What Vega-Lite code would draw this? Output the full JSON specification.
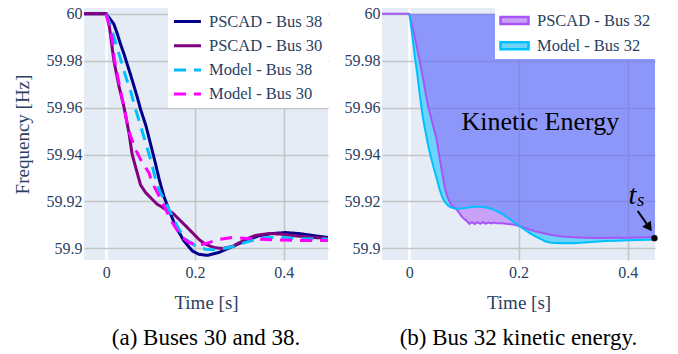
{
  "$schema": "https://vega.github.io/schema/vega-lite/v6.json",
  "padding": {"left": 13, "top": 5, "right": 5, "bottom": 2},
  "background": "white",
  "spacing": 10,
  "resolve": {
    "scale": {"stroke": "independent", "fill": "independent", "strokeDash": "independent", "strokeWidth": "independent", "x": "independent", "y": "independent"},
    "legend": {"stroke": "independent", "fill": "independent", "strokeDash": "independent", "strokeWidth": "independent"}
  },
  "config": {
    "font": "Liberation Serif",
    "view": {"stroke": null, "fill": "#E5ECF6"},
    "axis": {"domain": false, "ticks": false, "labelFont": "Liberation Serif", "labelFontSize": 16, "labelColor": "#2a3f5f", "titleFont": "Liberation Serif", "titleFontSize": 19, "titleFontWeight": "normal", "titleColor": "#2a3f5f", "gridColor": "#c4c4c4", "gridWidth": 1.5},
    "legend": {"labelFont": "Liberation Serif", "labelFontSize": 16.5, "labelColor": "#2a3f5f", "orient": "top-right", "offset": 0, "fillColor": "white", "title": null},
    "text": {"font": "Liberation Serif"},
    "title": {"font": "Liberation Serif", "fontSize": 23, "fontWeight": "normal", "color": "black", "orient": "bottom", "anchor": "middle", "offset": 15}
  },
  "hconcat": [
    {
      "width": 244,
      "height": 252,
      "title": {"text": "(a) Buses 30 and 38.", "orient": "bottom"},
      "data": {"values": [
        {"series": "PSCAD - Bus 38", "t": -0.05, "f": 60},
        {"series": "PSCAD - Bus 38", "t": 0, "f": 60},
        {"series": "PSCAD - Bus 38", "t": 0.01, "f": 59.9975},
        {"series": "PSCAD - Bus 38", "t": 0.0174, "f": 59.9956},
        {"series": "PSCAD - Bus 38", "t": 0.025, "f": 59.9915},
        {"series": "PSCAD - Bus 38", "t": 0.0325, "f": 59.987},
        {"series": "PSCAD - Bus 38", "t": 0.04, "f": 59.983},
        {"series": "PSCAD - Bus 38", "t": 0.0474, "f": 59.9785},
        {"series": "PSCAD - Bus 38", "t": 0.055, "f": 59.974},
        {"series": "PSCAD - Bus 38", "t": 0.0625, "f": 59.9693},
        {"series": "PSCAD - Bus 38", "t": 0.07, "f": 59.9645},
        {"series": "PSCAD - Bus 38", "t": 0.0775, "f": 59.9593},
        {"series": "PSCAD - Bus 38", "t": 0.09, "f": 59.952},
        {"series": "PSCAD - Bus 38", "t": 0.1, "f": 59.9445},
        {"series": "PSCAD - Bus 38", "t": 0.11, "f": 59.937},
        {"series": "PSCAD - Bus 38", "t": 0.12, "f": 59.929},
        {"series": "PSCAD - Bus 38", "t": 0.13, "f": 59.9222},
        {"series": "PSCAD - Bus 38", "t": 0.141, "f": 59.9166},
        {"series": "PSCAD - Bus 38", "t": 0.156, "f": 59.9096},
        {"series": "PSCAD - Bus 38", "t": 0.175, "f": 59.9032},
        {"series": "PSCAD - Bus 38", "t": 0.194, "f": 59.8989},
        {"series": "PSCAD - Bus 38", "t": 0.209, "f": 59.8974},
        {"series": "PSCAD - Bus 38", "t": 0.228, "f": 59.897},
        {"series": "PSCAD - Bus 38", "t": 0.254, "f": 59.8982},
        {"series": "PSCAD - Bus 38", "t": 0.284, "f": 59.9007},
        {"series": "PSCAD - Bus 38", "t": 0.314, "f": 59.9032},
        {"series": "PSCAD - Bus 38", "t": 0.344, "f": 59.9053},
        {"series": "PSCAD - Bus 38", "t": 0.374, "f": 59.9063},
        {"series": "PSCAD - Bus 38", "t": 0.404, "f": 59.9067},
        {"series": "PSCAD - Bus 38", "t": 0.434, "f": 59.9063},
        {"series": "PSCAD - Bus 38", "t": 0.464, "f": 59.9055},
        {"series": "PSCAD - Bus 38", "t": 0.5, "f": 59.9046},
        {"series": "PSCAD - Bus 30", "t": -0.05, "f": 60},
        {"series": "PSCAD - Bus 30", "t": 0, "f": 60},
        {"series": "PSCAD - Bus 30", "t": 0.006, "f": 59.9963},
        {"series": "PSCAD - Bus 30", "t": 0.0174, "f": 59.98},
        {"series": "PSCAD - Bus 30", "t": 0.0286, "f": 59.9693},
        {"series": "PSCAD - Bus 30", "t": 0.04, "f": 59.9603},
        {"series": "PSCAD - Bus 30", "t": 0.0512, "f": 59.9494},
        {"series": "PSCAD - Bus 30", "t": 0.0586, "f": 59.94},
        {"series": "PSCAD - Bus 30", "t": 0.068, "f": 59.9335},
        {"series": "PSCAD - Bus 30", "t": 0.0775, "f": 59.927},
        {"series": "PSCAD - Bus 30", "t": 0.0888, "f": 59.9238},
        {"series": "PSCAD - Bus 30", "t": 0.1037, "f": 59.9209},
        {"series": "PSCAD - Bus 30", "t": 0.115, "f": 59.9188},
        {"series": "PSCAD - Bus 30", "t": 0.134, "f": 59.9166},
        {"series": "PSCAD - Bus 30", "t": 0.149, "f": 59.9152},
        {"series": "PSCAD - Bus 30", "t": 0.164, "f": 59.9124},
        {"series": "PSCAD - Bus 30", "t": 0.179, "f": 59.9096},
        {"series": "PSCAD - Bus 30", "t": 0.194, "f": 59.9067},
        {"series": "PSCAD - Bus 30", "t": 0.209, "f": 59.9038},
        {"series": "PSCAD - Bus 30", "t": 0.224, "f": 59.9017},
        {"series": "PSCAD - Bus 30", "t": 0.243, "f": 59.9003},
        {"series": "PSCAD - Bus 30", "t": 0.262, "f": 59.8999},
        {"series": "PSCAD - Bus 30", "t": 0.284, "f": 59.9007},
        {"series": "PSCAD - Bus 30", "t": 0.314, "f": 59.9038},
        {"series": "PSCAD - Bus 30", "t": 0.337, "f": 59.9055},
        {"series": "PSCAD - Bus 30", "t": 0.367, "f": 59.9063},
        {"series": "PSCAD - Bus 30", "t": 0.397, "f": 59.906},
        {"series": "PSCAD - Bus 30", "t": 0.427, "f": 59.9053},
        {"series": "PSCAD - Bus 30", "t": 0.464, "f": 59.9046},
        {"series": "PSCAD - Bus 30", "t": 0.5, "f": 59.9043},
        {"series": "Model - Bus 38", "t": 0, "f": 60},
        {"series": "Model - Bus 38", "t": 0.0099, "f": 59.9949},
        {"series": "Model - Bus 38", "t": 0.0212, "f": 59.9878},
        {"series": "Model - Bus 38", "t": 0.0325, "f": 59.9806},
        {"series": "Model - Bus 38", "t": 0.0437, "f": 59.9735},
        {"series": "Model - Bus 38", "t": 0.055, "f": 59.9671},
        {"series": "Model - Bus 38", "t": 0.0663, "f": 59.9593},
        {"series": "Model - Bus 38", "t": 0.0775, "f": 59.9522},
        {"series": "Model - Bus 38", "t": 0.0888, "f": 59.9451},
        {"series": "Model - Bus 38", "t": 0.1, "f": 59.938},
        {"series": "Model - Bus 38", "t": 0.115, "f": 59.9266},
        {"series": "Model - Bus 38", "t": 0.126, "f": 59.9224},
        {"series": "Model - Bus 38", "t": 0.1375, "f": 59.9181},
        {"series": "Model - Bus 38", "t": 0.149, "f": 59.9138},
        {"series": "Model - Bus 38", "t": 0.164, "f": 59.9081},
        {"series": "Model - Bus 38", "t": 0.179, "f": 59.9038},
        {"series": "Model - Bus 38", "t": 0.2016, "f": 59.901},
        {"series": "Model - Bus 38", "t": 0.224, "f": 59.8996},
        {"series": "Model - Bus 38", "t": 0.2467, "f": 59.8993},
        {"series": "Model - Bus 38", "t": 0.2767, "f": 59.9003},
        {"series": "Model - Bus 38", "t": 0.3067, "f": 59.9021},
        {"series": "Model - Bus 38", "t": 0.337, "f": 59.9038},
        {"series": "Model - Bus 38", "t": 0.367, "f": 59.9046},
        {"series": "Model - Bus 38", "t": 0.397, "f": 59.9046},
        {"series": "Model - Bus 38", "t": 0.4345, "f": 59.9041},
        {"series": "Model - Bus 38", "t": 0.5, "f": 59.9038},
        {"series": "Model - Bus 30", "t": 0, "f": 60},
        {"series": "Model - Bus 30", "t": 0.0135, "f": 59.9892},
        {"series": "Model - Bus 30", "t": 0.019, "f": 59.9802},
        {"series": "Model - Bus 30", "t": 0.0286, "f": 59.9707},
        {"series": "Model - Bus 30", "t": 0.04, "f": 59.9603},
        {"series": "Model - Bus 30", "t": 0.051, "f": 59.95},
        {"series": "Model - Bus 30", "t": 0.066, "f": 59.9422},
        {"series": "Model - Bus 30", "t": 0.081, "f": 59.9366},
        {"series": "Model - Bus 30", "t": 0.0963, "f": 59.9323},
        {"series": "Model - Bus 30", "t": 0.1037, "f": 59.928},
        {"series": "Model - Bus 30", "t": 0.119, "f": 59.9224},
        {"series": "Model - Bus 30", "t": 0.134, "f": 59.9166},
        {"series": "Model - Bus 30", "t": 0.149, "f": 59.911},
        {"series": "Model - Bus 30", "t": 0.168, "f": 59.9053},
        {"series": "Model - Bus 30", "t": 0.1865, "f": 59.9024},
        {"series": "Model - Bus 30", "t": 0.209, "f": 59.9013},
        {"series": "Model - Bus 30", "t": 0.2316, "f": 59.9024},
        {"series": "Model - Bus 30", "t": 0.254, "f": 59.9038},
        {"series": "Model - Bus 30", "t": 0.284, "f": 59.9046},
        {"series": "Model - Bus 30", "t": 0.329, "f": 59.9041},
        {"series": "Model - Bus 30", "t": 0.374, "f": 59.9036},
        {"series": "Model - Bus 30", "t": 0.4345, "f": 59.9033},
        {"series": "Model - Bus 30", "t": 0.5, "f": 59.9033}
      ]},
      "mark": {"type": "line"},
      "encoding": {
        "x": {"field": "t", "type": "quantitative", "scale": {"domain": [-0.05, 0.5], "nice": false, "zero": false},
          "axis": {"values": [0, 0.2, 0.4], "format": "~g", "title": "Time [s]", "labelPadding": 4, "titlePadding": 13,
            "gridColor": {"condition": {"test": "datum.value === 0", "value": "#ffffff"}, "value": "#c4c4c4"},
            "gridWidth": {"condition": {"test": "datum.value === 0", "value": 2.5}, "value": 1.5}}},
        "y": {"field": "f", "type": "quantitative", "scale": {"domain": [59.895, 60.0025], "nice": false, "zero": false},
          "axis": {"values": [59.9, 59.92, 59.94, 59.96, 59.98, 60], "format": "~g", "title": "Frequency [Hz]", "labelPadding": 2, "titlePadding": 14}},
        "stroke": {"field": "series", "type": "nominal",
          "scale": {"domain": ["PSCAD - Bus 38", "PSCAD - Bus 30", "Model - Bus 38", "Model - Bus 30"], "range": ["#00008B", "#800080", "#00BFFF", "#FF00FF"]},
          "legend": {"symbolType": "M-2,0H2", "symbolSize": 182, "symbolStrokeWidth": 3.5, "symbolOffset": 6, "labelOffset": 13, "padding": 5, "rowPadding": 7.2}},
        "strokeDash": {"field": "series", "type": "nominal",
          "scale": {"domain": ["PSCAD - Bus 38", "PSCAD - Bus 30", "Model - Bus 38", "Model - Bus 30"], "range": [[1, 0], [1, 0], [12, 8], [12, 8]]},
          "legend": {"symbolType": "M-2,0H2", "symbolSize": 182, "symbolStrokeWidth": 3.5, "symbolOffset": 6, "labelOffset": 13, "padding": 5, "rowPadding": 7.2}},
        "strokeWidth": {"field": "series", "type": "ordinal",
          "scale": {"domain": ["PSCAD - Bus 38", "PSCAD - Bus 30", "Model - Bus 38", "Model - Bus 30"], "range": [3, 3, 4, 4]}, "legend": null}
      }
    },
    {
      "width": 273,
      "height": 252,
      "title": {"text": "(b) Bus 32 kinetic energy.", "orient": "bottom"},
      "data": {"values": [
        {"t": -0.05, "pscad": 60, "model": null, "ke": 60},
        {"t": 0, "pscad": 60, "model": 60, "ke": 60},
        {"t": 0.005, "pscad": 59.9953, "model": 59.9918, "ke": 59.9953},
        {"t": 0.01, "pscad": 59.99, "model": 59.982, "ke": 59.99},
        {"t": 0.015, "pscad": 59.9845, "model": 59.9735, "ke": 59.9845},
        {"t": 0.02, "pscad": 59.9787, "model": 59.964, "ke": 59.9787},
        {"t": 0.025, "pscad": 59.9727, "model": 59.9555, "ke": 59.9727},
        {"t": 0.03, "pscad": 59.966, "model": 59.9494, "ke": 59.966},
        {"t": 0.035, "pscad": 59.96, "model": 59.9433, "ke": 59.96},
        {"t": 0.04, "pscad": 59.9556, "model": 59.9385, "ke": 59.9556},
        {"t": 0.045, "pscad": 59.951, "model": 59.934, "ke": 59.951},
        {"t": 0.05, "pscad": 59.9465, "model": 59.93, "ke": 59.9465},
        {"t": 0.055, "pscad": 59.9392, "model": 59.9255, "ke": 59.9392},
        {"t": 0.06, "pscad": 59.9325, "model": 59.922, "ke": 59.9325},
        {"t": 0.065, "pscad": 59.9257, "model": 59.9198, "ke": 59.9257},
        {"t": 0.07, "pscad": 59.9218, "model": 59.9185, "ke": 59.9218},
        {"t": 0.075, "pscad": 59.9192, "model": 59.9176, "ke": 59.9192},
        {"t": 0.08, "pscad": 59.9178, "model": 59.9172, "ke": 59.9178},
        {"t": 0.085, "pscad": 59.9169, "model": 59.917, "ke": 59.917},
        {"t": 0.09, "pscad": 59.9156, "model": 59.9169, "ke": 59.9169},
        {"t": 0.095, "pscad": 59.9138, "model": 59.917, "ke": 59.917},
        {"t": 0.1, "pscad": 59.9126, "model": 59.9172, "ke": 59.9172},
        {"t": 0.105, "pscad": 59.9117, "model": 59.9173, "ke": 59.9173},
        {"t": 0.11, "pscad": 59.9104, "model": 59.9175, "ke": 59.9175},
        {"t": 0.115, "pscad": 59.9111, "model": 59.9176, "ke": 59.9176},
        {"t": 0.12, "pscad": 59.9103, "model": 59.9177, "ke": 59.9177},
        {"t": 0.125, "pscad": 59.9111, "model": 59.9177, "ke": 59.9177},
        {"t": 0.13, "pscad": 59.9104, "model": 59.9177, "ke": 59.9177},
        {"t": 0.135, "pscad": 59.9111, "model": 59.9176, "ke": 59.9176},
        {"t": 0.14, "pscad": 59.9105, "model": 59.9174, "ke": 59.9174},
        {"t": 0.145, "pscad": 59.911, "model": 59.9172, "ke": 59.9172},
        {"t": 0.15, "pscad": 59.9106, "model": 59.9168, "ke": 59.9168},
        {"t": 0.155, "pscad": 59.911, "model": 59.9164, "ke": 59.9164},
        {"t": 0.16, "pscad": 59.9107, "model": 59.9159, "ke": 59.9159},
        {"t": 0.17, "pscad": 59.9107, "model": 59.9147, "ke": 59.9147},
        {"t": 0.18, "pscad": 59.9104, "model": 59.9131, "ke": 59.9131},
        {"t": 0.19, "pscad": 59.9101, "model": 59.9114, "ke": 59.9114},
        {"t": 0.2, "pscad": 59.9096, "model": 59.9097, "ke": 59.9097},
        {"t": 0.21, "pscad": 59.9088, "model": 59.9082, "ke": 59.9088},
        {"t": 0.22, "pscad": 59.908, "model": 59.9066, "ke": 59.908},
        {"t": 0.23, "pscad": 59.9073, "model": 59.9052, "ke": 59.9073},
        {"t": 0.24, "pscad": 59.9067, "model": 59.904, "ke": 59.9067},
        {"t": 0.25, "pscad": 59.9062, "model": 59.9029, "ke": 59.9062},
        {"t": 0.26, "pscad": 59.9057, "model": 59.9024, "ke": 59.9057},
        {"t": 0.28, "pscad": 59.905, "model": 59.9021, "ke": 59.905},
        {"t": 0.3, "pscad": 59.9047, "model": 59.9021, "ke": 59.9047},
        {"t": 0.32, "pscad": 59.9045, "model": 59.9025, "ke": 59.9045},
        {"t": 0.34, "pscad": 59.9044, "model": 59.9028, "ke": 59.9044},
        {"t": 0.36, "pscad": 59.9044, "model": 59.9031, "ke": 59.9044},
        {"t": 0.38, "pscad": 59.9045, "model": 59.9032, "ke": 59.9045},
        {"t": 0.4, "pscad": 59.9045, "model": 59.9034, "ke": 59.9045},
        {"t": 0.42, "pscad": 59.9046, "model": 59.9035, "ke": 59.9046},
        {"t": 0.44, "pscad": 59.9047, "model": 59.9036, "ke": 59.9047},
        {"t": 0.45, "pscad": 59.9048, "model": 59.9036, "ke": 59.9048}
      ]},
      "encoding": {
        "x": {"field": "t", "type": "quantitative", "scale": {"domain": [-0.05, 0.45], "nice": false, "zero": false},
          "axis": {"values": [0, 0.2, 0.4], "format": "~g", "title": "Time [s]", "labelPadding": 4, "titlePadding": 13,
            "gridColor": {"condition": {"test": "datum.value === 0", "value": "#ffffff"}, "value": "#c4c4c4"},
            "gridWidth": {"condition": {"test": "datum.value === 0", "value": 2.5}, "value": 1.5}}},
        "y": {"field": "f", "type": "quantitative", "scale": {"domain": [59.895, 60.0025], "nice": false, "zero": false},
          "axis": {"values": [59.9, 59.92, 59.94, 59.96, 59.98, 60], "format": "~g", "title": null, "labelPadding": 2}}
      },
      "layer": [
        {
          "transform": [{"filter": "datum.t >= 0"}],
          "mark": {"type": "area", "color": "#636EFA", "opacity": 0.68},
          "encoding": {
            "y": {"field": "ke", "type": "quantitative", "scale": {"domain": [59.895, 60.0025], "nice": false, "zero": false},
              "axis": {"values": [59.9, 59.92, 59.94, 59.96, 59.98, 60], "format": "~g", "title": null, "labelPadding": 2}},
            "y2": {"datum": 60}
          }
        },
        {
          "transform": [{"fold": ["pscad", "model"], "as": ["series", "f"]}, {"filter": "isValid(datum.f)"}],
          "mark": {"type": "area", "opacity": 1},
          "encoding": {
            "y2": {"field": "ke"},
            "fill": {"field": "series", "type": "nominal", "scale": {"domain": ["pscad", "model"], "range": ["#C8A2F6", "#6CD3FA"]},
              "legend": {"symbolType": "M-2,-0.5H2V0.5H-2Z", "symbolSize": 196, "symbolStrokeWidth": 2.5, "symbolOffset": 7, "labelOffset": 14, "padding": 4, "rowPadding": 8.2, "labelExpr": "datum.value == 'pscad' ? 'PSCAD - Bus 32' : 'Model - Bus 32'"}}
          }
        },
        {
          "transform": [{"fold": ["pscad", "model"], "as": ["series", "f"]}, {"filter": "isValid(datum.f)"}],
          "mark": {"type": "line", "strokeWidth": 2},
          "encoding": {
            "stroke": {"field": "series", "type": "nominal", "scale": {"domain": ["pscad", "model"], "range": ["#A855F7", "#00BFFF"]},
              "legend": {"symbolType": "M-2,-0.5H2V0.5H-2Z", "symbolSize": 196, "symbolStrokeWidth": 2.5, "symbolOffset": 7, "labelOffset": 14, "padding": 4, "rowPadding": 8.2, "labelExpr": "datum.value == 'pscad' ? 'PSCAD - Bus 32' : 'Model - Bus 32'"}}
          }
        },
        {
          "data": {"values": [{"t": 0.4184, "f": 59.9159, "t2": 0.4393, "f2": 59.9089}]},
          "mark": {"type": "rule", "color": "black", "strokeWidth": 2},
          "encoding": {"x2": {"field": "t2"}, "y2": {"field": "f2"}}
        },
        {
          "data": {"values": [{"t": 0.4393, "f": 59.9089}]},
          "mark": {"type": "point", "shape": "triangle-up", "filled": true, "color": "black", "size": 110, "angle": 145, "opacity": 1},
          "encoding": {}
        },
        {
          "data": {"values": [{"t": 0.449, "f": 59.9043}]},
          "mark": {"type": "point", "shape": "circle", "filled": true, "color": "black", "size": 40, "opacity": 1},
          "encoding": {}
        },
        {
          "data": {"values": [{"t": 0.24, "f": 59.9506, "label": "Kinetic Energy"}]},
          "mark": {"type": "text", "font": "Liberation Serif", "fontSize": 26, "color": "black", "baseline": "alphabetic", "align": "center"},
          "encoding": {"text": {"field": "label"}}
        },
        {
          "data": {"values": [{"t": 0.4086, "f": 59.9187, "label": "t"}]},
          "mark": {"type": "text", "font": "Liberation Serif", "fontSize": 28, "fontStyle": "italic", "color": "black", "baseline": "alphabetic", "align": "center"},
          "encoding": {"text": {"field": "label"}}
        },
        {
          "data": {"values": [{"t": 0.4238, "f": 59.918, "label": "s"}]},
          "mark": {"type": "text", "font": "Liberation Serif", "fontSize": 19, "fontStyle": "italic", "color": "black", "baseline": "alphabetic", "align": "center"},
          "encoding": {"text": {"field": "label"}}
        }
      ]
    }
  ]
}
